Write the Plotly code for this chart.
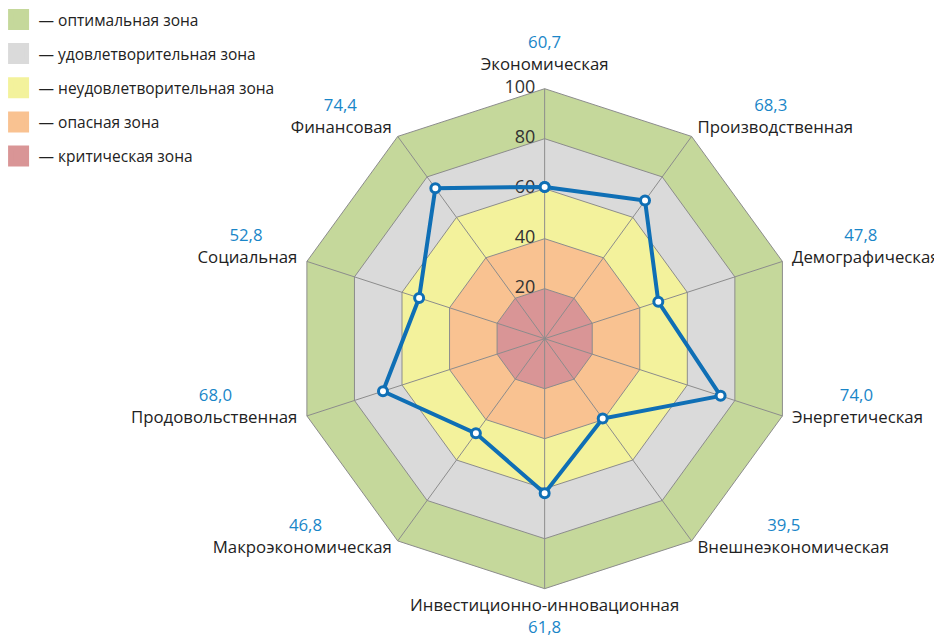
import math
import plotly.graph_objects as go

categories = ["Экономическая", "Производственная", "Демографическая", "Энергетическая",
              "Внешнеэкономическая", "Инвестиционно-инновационная", "Макроэкономическая",
              "Продовольственная", "Социальная", "Финансовая"]
values = [60.7, 68.3, 47.8, 74.0, 39.5, 61.8, 46.8, 68.0, 52.8, 74.4]

zone_names = ["— оптимальная зона", "— удовлетворительная зона", "— неудовлетворительная зона",
              "— опасная зона", "— критическая зона"]
zone_upper = [100, 80, 60, 40, 20]
zone_colors = ["#c5d89b", "#dadada", "#f3f29c", "#f9c291", "#d99596"]

radial_ticks = [0, 20, 40, 60, 80, 100]

BLUE = "#0f6fb5"
VAL_BLUE = "#1a86c8"
GRID = "#8c8c8c"
FONT = "Open Sans"
LABEL_SIZE = 16.8
R_MAX = 104  # a little room outside the outer zone for the labels


def fmt(v):
    return f"{v:.1f}".replace(".", ",")


def em_width(s):
    # rough advance widths (in em) for Open Sans
    w = 0
    for ch in s:
        if ch.isdigit():
            w += 0.57
        elif ch in ",.":
            w += 0.27
        elif ch == "-":
            w += 0.32
        elif ch.isupper():
            w += 0.66
        else:
            w += 0.54
    return w


def label_parts(i, name, v):
    ang = math.radians(90 - 36 * i)
    c, s = math.cos(ang), math.sin(ang)
    val = fmt(v)
    n = max(0, round((em_width(name) - em_width(val)) / 2 / 0.26))
    vspan = lambda t: f"<span style='color:{VAL_BLUE}'>{t}</span>"
    if abs(c) < 0.1:
        if s > 0:
            return vspan(val) + "<br>" + name, "top center", 6
        return name + "<br>" + vspan(val), "bottom center", 0
    if c > 0:
        return vspan("\u00a0" * n + val) + "<br>" + name + "<br>\u00a0", "middle right", 0
    return vspan(val + "\u00a0" * (n + 1)) + "<br>" + name + "<br>\u00a0", "middle left", 0


label_text, label_pos, label_gap = zip(*[label_parts(i, c, v)
                                         for i, (c, v) in enumerate(zip(categories, values))])

closed = categories + categories[:1]

fig = go.Figure()

for name, up, col in zip(zone_names, zone_upper, zone_colors):
    fig.add_trace(go.Scatterpolar(
        r=[up] * len(closed), theta=closed, mode="lines", fill="toself",
        fillcolor=col, line=dict(color=GRID, width=1), showlegend=False,
        hoverinfo="skip"))

for cat in categories:
    fig.add_trace(go.Scatterpolar(
        r=[0, 100], theta=[cat, cat], mode="lines",
        line=dict(color=GRID, width=1), showlegend=False, hoverinfo="skip"))

# radial scale numbers along the top spoke
fig.add_trace(go.Scatterpolar(
    r=radial_ticks, theta=[categories[0]] * len(radial_ticks), mode="text",
    text=[f"{t}\u00a0\u00a0" for t in radial_ticks], textposition="middle left",
    textfont=dict(family=FONT, size=18, color="#333"),
    showlegend=False, hoverinfo="skip"))

fig.add_trace(go.Scatterpolar(
    r=values + values[:1], theta=closed, mode="lines+markers",
    line=dict(color=BLUE, width=4),
    marker=dict(size=9, color="white", line=dict(color=BLUE, width=3)),
    showlegend=False))

# category names with their values, just outside the outer polygon
fig.add_trace(go.Scatterpolar(
    r=[R_MAX] * len(categories), theta=categories, mode="markers+text",
    text=list(label_text), textposition=list(label_pos), cliponaxis=False,
    marker=dict(size=list(label_gap), color="rgba(0,0,0,0)"),
    textfont=dict(family=FONT, size=LABEL_SIZE, color="#222"),
    showlegend=False, hoverinfo="skip"))

# legend swatches
for k, (name, col) in enumerate(zip(zone_names, zone_colors)):
    fig.add_trace(go.Scatterpolar(
        r=[None], theta=[categories[0]], mode="markers", name=name,
        legendgroup=f"z{k}",
        marker=dict(symbol="square", size=16, color=col, line=dict(color=col, width=5))))

fig.update_layout(
    width=942, height=639,
    margin=dict(l=0, r=0, t=0, b=0, autoexpand=False),
    paper_bgcolor="white",
    font=dict(family=FONT, size=15, color="#222"),
    polar=dict(
        domain=dict(x=[0.2937, 0.8457], y=[0.0756, 0.8894]),
        gridshape="linear",
        bgcolor="rgba(0,0,0,0)",
        angularaxis=dict(
            direction="clockwise", rotation=90, showgrid=False, showline=False,
            ticks="", showticklabels=False),
        radialaxis=dict(
            range=[0, R_MAX], angle=90, showgrid=False, showline=False,
            ticks="", showticklabels=False),
    ),
    legend=dict(x=-0.01, y=1.008, xanchor="left", yanchor="top",
                font=dict(size=15.5, color="#222"), tracegroupgap=11,
                itemsizing="trace"),
)

fig.write_html("out.html")
